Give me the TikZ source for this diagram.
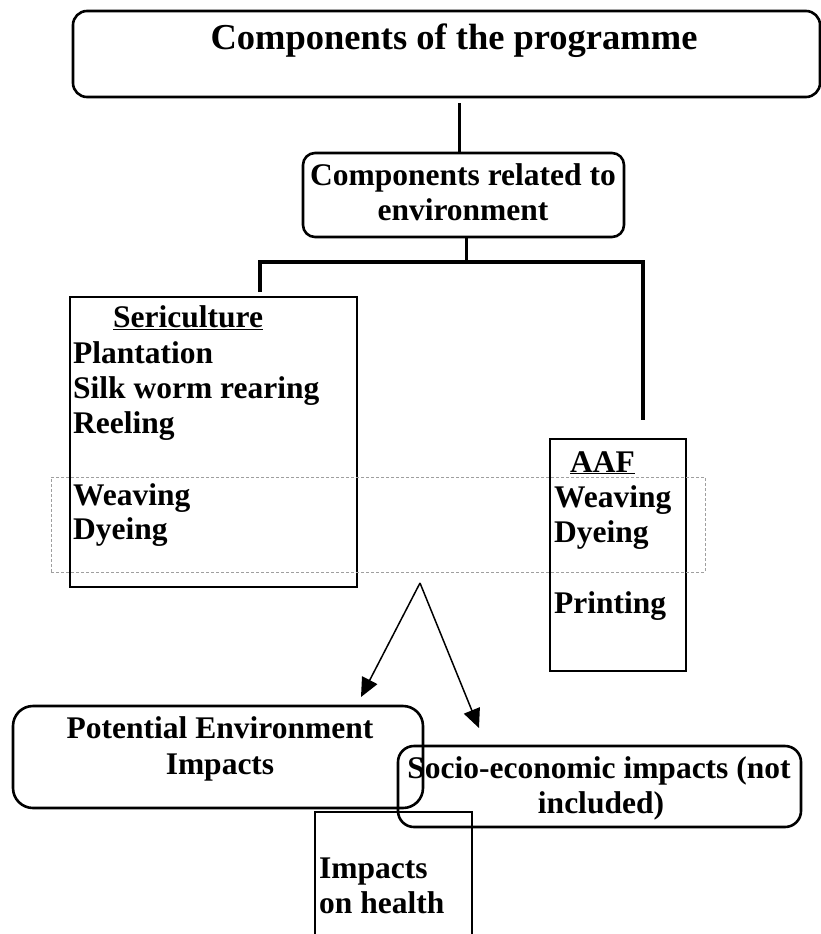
\documentclass[tikz,border=0pt]{standalone}
\usepackage{fontspec}
\setmainfont{Liberation Serif}
\usetikzlibrary{arrows.meta,calc}
\tikzset{
  rbox/.style={draw, line width=2.6pt, rounded corners=14pt, inner sep=0pt},
  sbox/.style={draw, line width=1.7pt, inner sep=0pt},
  bandbox/.style={draw=gray!75, line width=1pt, densely dashed, inner sep=0pt},
  conn/.style={line width=3pt},
  barline/.style={line width=4.2pt, line join=miter},
  arr/.style={line width=1.5pt, -{Triangle[length=19pt,width=17pt]}},
  txt/.style={inner sep=0pt, font=\bfseries\fontsize{31.5}{35}\selectfont},
  titletxt/.style={inner sep=0pt, font=\bfseries\fontsize{36.5}{40}\selectfont},
}
\begin{document}
\begin{tikzpicture}[x=1pt,y=-1pt]
\useasboundingbox (0,0) rectangle (821,934);
\clip (0,0) rectangle (821,934);
\fill[white] (0,0) rectangle (821,934);

% top box
\node[rbox, minimum width=747pt, minimum height=86pt] (top) at (446.5,54) {};
\node[titletxt, anchor=base] (toptxt) at (454,50) {Components of the programme};

% environment box
\node[rbox, rounded corners=12pt, minimum width=321pt, minimum height=84pt] (env) at (463.5,195) {};
\node[txt, anchor=base] (envt1) at (463,185) {Components related to};
\node[txt, anchor=base] (envt2) at (463,220) {environment};

\draw[conn] ($(top.south -| env.north)+(-4,5)$) -- ($(env.north)+(-4,0)$);

% sericulture box
\node[sbox, minimum width=287pt, minimum height=290pt] (seri) at (213.5,442) {};
\node[txt, anchor=base west] (serih) at (113,327) {\underline{Sericulture}};
\node[txt, anchor=base west] (seri1) at (73,363) {Plantation};
\node[txt, anchor=base west] (seri2) at (73,398) {Silk worm rearing};
\node[txt, anchor=base west] (seri3) at (73,433) {Reeling};
\node[txt, anchor=base west] (seri4) at (73,505) {Weaving};
\node[txt, anchor=base west] (seri5) at (73,539) {Dyeing};

% AAF box
\node[sbox, minimum width=136pt, minimum height=232pt] (aaf) at (618,555) {};
\node[txt, anchor=base west] (aafh) at (570,472) {\underline{AAF}};
\node[txt, anchor=base west] (aaf1) at (554,507) {Weaving};
\node[txt, anchor=base west] (aaf2) at (554,542) {Dyeing};
\node[txt, anchor=base west] (aaf3) at (554,613) {Printing};

% dotted band
\node[bandbox, minimum width=654pt, minimum height=95pt] (band) at (378,524.5) {};

% tree connectors
\coordinate (jm) at (466,262);
\coordinate (jl) at (260,262);
\coordinate (jr) at (643,262);
\coordinate (rend) at (643,420);
\draw[conn] (env.south -| jm) -- (jm);
\draw[barline] ($(seri.north -| jl)+(0,-4)$) -- (jl) -- (jr) -- (rend);

% impact boxes
\node[rbox, rounded corners=20pt, minimum width=410pt, minimum height=102pt] (pot) at (218,757) {};
\node[txt, anchor=base] (pot1) at (220,738) {Potential Environment};
\node[txt, anchor=base] (pot2) at (220,774) {Impacts};

\node[rbox, rounded corners=16pt, minimum width=403pt, minimum height=81pt] (socio) at (599.5,786.5) {};
\node[txt, anchor=base] (soc1) at (599,778) {Socio-economic impacts (not};
\node[txt, anchor=base] (soc2) at (601,813) {included)};

\node[sbox, minimum width=157pt, minimum height=138pt] (health) at (393.5,881) {};
\node[txt, anchor=base west] (hea1) at (319,878) {Impacts};
\node[txt, anchor=base west] (hea2) at (319,913) {on health};

% arrows
\coordinate (apex) at (420,583);
\coordinate (tipL) at (361,697);
\coordinate (tipR) at (479,728);
\draw[arr] (apex) -- (tipL);
\draw[arr] (apex) -- (tipR);
\end{tikzpicture}
\end{document}
